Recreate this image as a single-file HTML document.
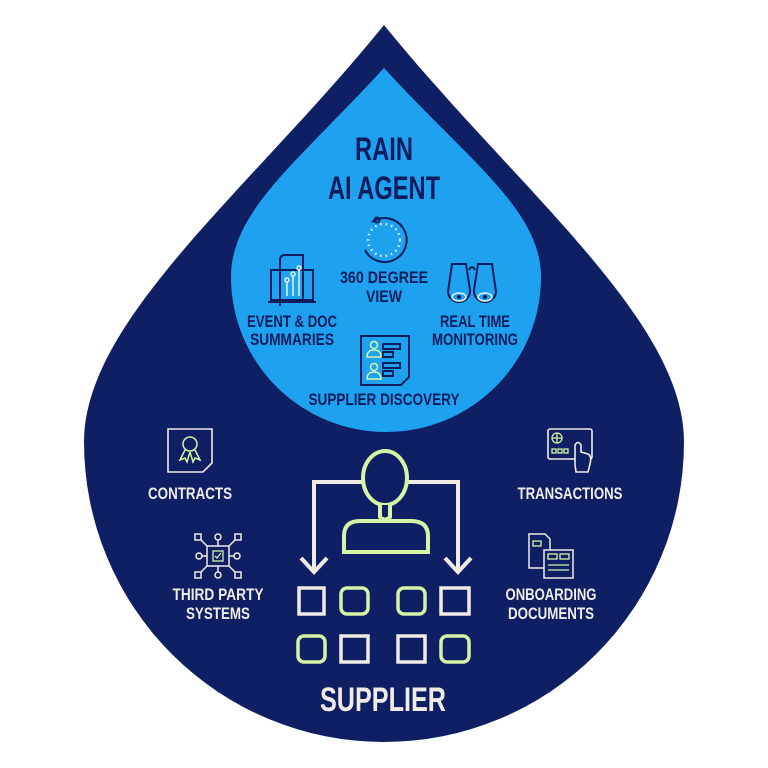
<!DOCTYPE html>
<html><head><meta charset="utf-8"><style>
html,body{margin:0;padding:0;background:#fff;}
svg{display:block;}
text{font-family:"Liberation Sans",sans-serif;font-weight:bold;}
</style></head><body>
<svg width="768" height="768" viewBox="0 0 768 768" xmlns="http://www.w3.org/2000/svg">
<rect width="768" height="768" fill="#fff"/>
<path d="M384,25 C250,190 84,320 84,442 A300,300 0 0 0 684,442 C684,320 518,190 384,25 Z" fill="#0e1f63"/>
<path d="M384,68 C300,160 231,210 231,277 A155,155 0 0 0 541,277 C541,210 468,160 384,68 Z" fill="#1ea2f0"/>

<g fill="#0c1c5c">
<text x="384" y="160" font-size="32" text-anchor="middle" textLength="58" lengthAdjust="spacingAndGlyphs">RAIN</text>
<text x="384" y="199" font-size="32" text-anchor="middle" textLength="112" lengthAdjust="spacingAndGlyphs">AI AGENT</text>
<text x="384" y="283" font-size="17" text-anchor="middle" textLength="88" lengthAdjust="spacingAndGlyphs">360 DEGREE</text>
<text x="384" y="302" font-size="17" text-anchor="middle" textLength="36" lengthAdjust="spacingAndGlyphs">VIEW</text>
<text x="292" y="327" font-size="17" text-anchor="middle" textLength="90" lengthAdjust="spacingAndGlyphs">EVENT &amp; DOC</text>
<text x="292" y="345" font-size="17" text-anchor="middle" textLength="84" lengthAdjust="spacingAndGlyphs">SUMMARIES</text>
<text x="475" y="327" font-size="17" text-anchor="middle" textLength="70" lengthAdjust="spacingAndGlyphs">REAL TIME</text>
<text x="475" y="345" font-size="17" text-anchor="middle" textLength="86" lengthAdjust="spacingAndGlyphs">MONITORING</text>
<text x="384" y="405" font-size="17" text-anchor="middle" textLength="151" lengthAdjust="spacingAndGlyphs">SUPPLIER DISCOVERY</text>
</g>

<!-- 360 icon -->
<g fill="none" stroke="#0c1c5c" stroke-width="2">
<path d="M365,250 A22,22 0 1 0 372,222"/>
<circle cx="377" cy="220" r="2.5"/>
</g>
<circle cx="384" cy="240" r="16" fill="none" stroke="#dff6ff" stroke-width="2.5" stroke-dasharray="1.5 4"/>
<!-- event doc icon -->
<g fill="none" stroke="#0c1c5c" stroke-width="2">
<rect x="271" y="270" width="42" height="30"/>
<path d="M268,302 H316"/>
<path d="M280,306 V260 Q280,255 285,255 H303 V300"/>
</g>
<g fill="none" stroke="#dff6ff" stroke-width="1.5">
<path d="M287,296 V282 M293,296 V276 M299,296 V270"/><circle cx="287" cy="280" r="2"/><circle cx="293" cy="274" r="2"/><circle cx="299" cy="268" r="2"/>
</g>
<!-- binoculars -->
<g fill="none" stroke="#0c1c5c" stroke-width="2">
<path d="M452,264 H466 L470,290 A11,11 0 1 1 448,292 Z"/>
<path d="M478,264 H492 L496,292 A11,11 0 1 1 474,290 Z"/>
<path d="M469,270 Q472,264 475,270"/>
</g>
<g fill="none" stroke="#dff6ff" stroke-width="1.5"><ellipse cx="459" cy="297" rx="7" ry="4"/><ellipse cx="485" cy="297" rx="7" ry="4"/></g>
<circle cx="459" cy="297" r="2" fill="#0c1c5c"/><circle cx="485" cy="297" r="2" fill="#0c1c5c"/>
<!-- supplier discovery icon -->
<g fill="none" stroke="#0c1c5c" stroke-width="2">
<path d="M361,336 H409 V377 L401,385 H361 Z"/>
<rect x="383" y="344" width="17" height="5"/><rect x="383" y="352" width="10" height="5"/>
<rect x="383" y="363" width="17" height="5"/><rect x="383" y="371" width="10" height="5"/>
</g>
<g fill="none" stroke="#d6f4a6" stroke-width="1.5">
<circle cx="374" cy="345" r="3.5"/><path d="M367,357 Q367,350 374,350 Q381,350 381,357 Z"/>
<circle cx="374" cy="367" r="3.5"/><path d="M367,379 Q367,372 374,372 Q381,372 381,379 Z"/>
</g>

<!-- outer labels -->
<g fill="#efece6">
<text x="190" y="499" font-size="17" text-anchor="middle" textLength="84" lengthAdjust="spacingAndGlyphs">CONTRACTS</text>
<text x="570" y="499" font-size="17" text-anchor="middle" textLength="105" lengthAdjust="spacingAndGlyphs">TRANSACTIONS</text>
<text x="218" y="600" font-size="17" text-anchor="middle" textLength="91" lengthAdjust="spacingAndGlyphs">THIRD PARTY</text>
<text x="218" y="619" font-size="17" text-anchor="middle" textLength="64" lengthAdjust="spacingAndGlyphs">SYSTEMS</text>
<text x="551" y="600" font-size="17" text-anchor="middle" textLength="91" lengthAdjust="spacingAndGlyphs">ONBOARDING</text>
<text x="551" y="619" font-size="17" text-anchor="middle" textLength="86" lengthAdjust="spacingAndGlyphs">DOCUMENTS</text>
<text x="383" y="711" font-size="34" text-anchor="middle" textLength="126" lengthAdjust="spacingAndGlyphs">SUPPLIER</text>
</g>

<!-- contracts icon -->
<g fill="none" stroke="#efece6" stroke-width="1.6">
<path d="M168,429 H212 V463 L203,472 H168 Z"/>
</g>
<g fill="none" stroke="#d6f4a6" stroke-width="1.5">
<circle cx="190" cy="444" r="7"/><path d="M185,450 L180,460 L185,458 L187,462 L190,452 M195,450 L200,460 L195,458 L193,462 L190,452"/>
</g>
<!-- transactions icon -->
<g fill="none" stroke="#efece6" stroke-width="1.6">
<rect x="548" y="429" width="44" height="30" rx="2"/>
<path d="M575,465 V445 Q578,440 581,445 V452 L588,454 Q592,456 590,464 L588,472 H576 Z" fill="#0e1f63"/>
</g>
<g fill="none" stroke="#d6f4a6" stroke-width="1.3"><circle cx="557" cy="438" r="5"/><path d="M552,438 H562 M557,433 V443"/><rect x="552" y="449" width="4" height="4"/><rect x="558" y="449" width="4" height="4"/><rect x="564" y="449" width="4" height="4"/></g>
<!-- third party icon -->
<g fill="none" stroke="#efece6" stroke-width="1.5">
<rect x="207" y="546" width="22" height="20"/>
<rect x="195" y="534" width="6" height="6"/><rect x="235" y="534" width="6" height="6"/><rect x="195" y="572" width="6" height="6"/><rect x="235" y="572" width="6" height="6"/>
<circle cx="218" cy="537" r="3"/><circle cx="218" cy="575" r="3"/><circle cx="199" cy="556" r="3"/><circle cx="237" cy="556" r="3"/>
<path d="M218,540 V546 M218,566 V572 M202,556 H207 M229,556 H234 M201,540 L207,546 M235,540 L229,546 M201,572 L207,566 M235,572 L229,566"/>
</g>
<g fill="none" stroke="#d6f4a6" stroke-width="1.3"><rect x="213" y="551" width="10" height="10"/><path d="M215,556 L217,558 L221,553"/></g>
<!-- onboarding icon -->
<g fill="none" stroke="#efece6" stroke-width="1.5">
<path d="M529,534 H545 L550,539 V568 H529 Z"/>
<rect x="544" y="550" width="29" height="28" fill="#0e1f63"/>
</g>
<g fill="none" stroke="#d6f4a6" stroke-width="1.3"><rect x="533" y="541" width="8" height="5"/><rect x="548" y="554" width="9" height="5"/><rect x="560" y="554" width="9" height="5"/><path d="M548,565 H569 M548,570 H569"/></g>

<!-- supplier graphic -->
<g fill="none" stroke="#efece6" stroke-width="4">
<path d="M314,572 V482 H458 V572"/>
<path d="M301,558 L314,572 L327,558 M445,558 L458,572 L471,558"/>
</g>
<g fill="#0e1f63" stroke="#d6f4a6" stroke-width="4">
<path d="M344,552 V536 Q344,521 360,521 H411 Q428,521 428,536 V552 Z"/>
<ellipse cx="385" cy="478" rx="22" ry="27"/>
<path d="M380,505 V517 Q385,522 390,517 V505"/>
</g>
<g fill="none" stroke-width="3.5">
<rect x="299" y="588" width="25" height="26" stroke="#efece6"/>
<rect x="341" y="588" width="27" height="26" rx="6" stroke="#d6f4a6"/>
<rect x="398" y="588" width="27" height="26" rx="6" stroke="#d6f4a6"/>
<rect x="441" y="588" width="28" height="26" stroke="#efece6"/>
<rect x="298" y="636" width="27" height="26" rx="6" stroke="#d6f4a6"/>
<rect x="341" y="636" width="27" height="26" stroke="#efece6"/>
<rect x="398" y="636" width="27" height="26" stroke="#efece6"/>
<rect x="441" y="636" width="28" height="26" rx="6" stroke="#d6f4a6"/>
</g>
</svg>
</body></html>
